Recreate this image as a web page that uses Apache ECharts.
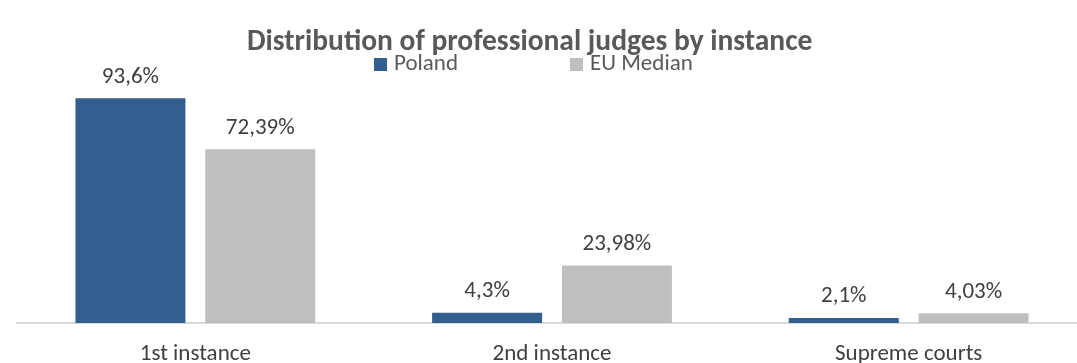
<!DOCTYPE html>
<html><head><meta charset="utf-8">
<script src="https://cdn.jsdelivr.net/npm/echarts@6/dist/echarts.min.js"></script>
<style>html,body{margin:0;padding:0;background:#fff}#c{width:1077px;height:363px}</style>
</head><body><div id="c"></div>
<script>
const categories = ['1st instance', '2nd instance', 'Supreme courts'];
const seriesNames = ['Poland', 'EU Median'];
const poland = [93.6, 4.3, 2.1];
const euMedian = [72.39, 23.98, 4.03];
const polandLabels = ['93,6%', '4,3%', '2,1%'];
const euLabels = ['72,39%', '23,98%', '4,03%'];

const FONT = 'Carlito, "Liberation Sans Narrow", "Open Sans", sans-serif';
const chart = echarts.init(document.getElementById('c'));
function lbl(arr){ return { show:true, position:'top', distance:10, color:'#404040', fontSize:23, fontFamily:FONT, formatter:p=>arr[p.dataIndex] }; }
chart.setOption({
  animation:false,
  title:{ text:'Distribution of professional judges by instance', left:242, top:23,
    textStyle:{ fontSize:29.5, fontWeight:'bold', color:'#595959', fontFamily:FONT } },
  legend:{ data:seriesNames, top:48, left:369, itemGap:112, itemWidth:13, itemHeight:13, icon:'rect',
    textStyle:{ fontSize:23, color:'#595959', fontFamily:FONT, padding:[0,0,0,2] } },
  grid:{ left:17, width:1070, top:83, height:240, outerBoundsMode:'none', containLabel:false },
  xAxis:{ type:'category', data:categories,
    axisLine:{ lineStyle:{ color:'#d9d9d9', width:2 } }, axisTick:{ show:false },
    axisLabel:{ color:'#404040', fontSize:23, fontFamily:FONT, margin:20 } },
  yAxis:{ type:'value', min:0, max:100, show:false, splitLine:{show:false} },
  series:[
    { name:seriesNames[0], type:'bar', data:poland, barWidth:110, barGap:'18%', itemStyle:{color:'#335f8f'}, label:lbl(polandLabels) },
    { name:seriesNames[1], type:'bar', data:euMedian, barWidth:110, itemStyle:{color:'#bfbfbf'}, label:lbl(euLabels) }
  ]
});
</script></body></html>
